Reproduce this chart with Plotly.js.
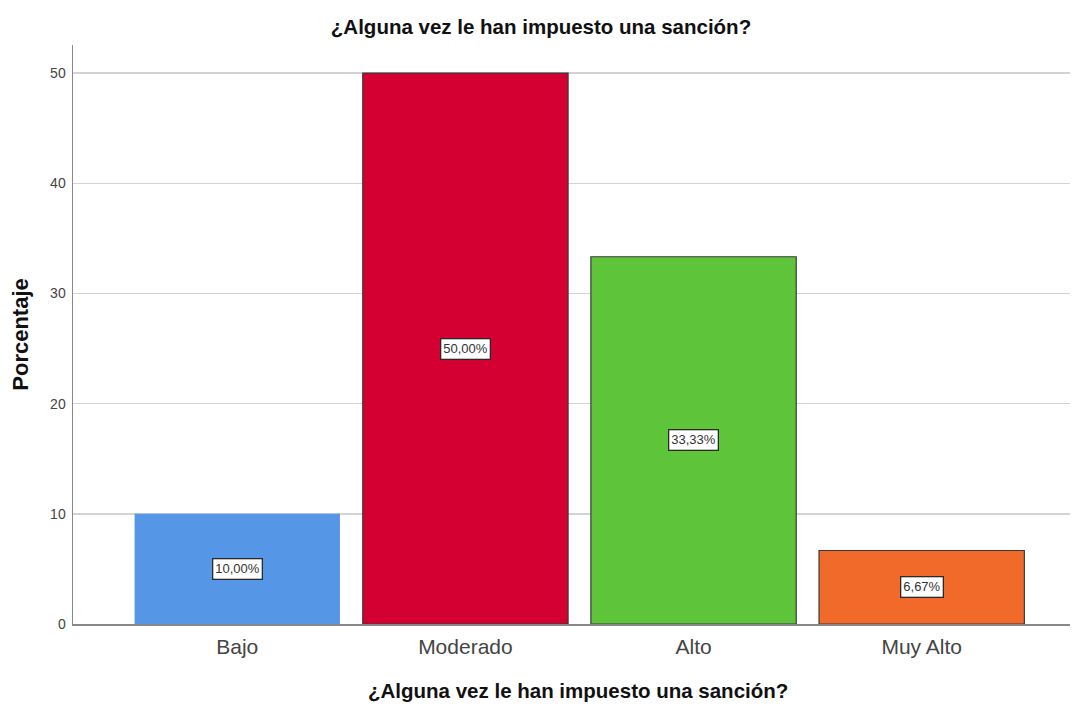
<!DOCTYPE html>
<html>
<head>
<meta charset="utf-8">
<script src="https://cdn.plot.ly/plotly-3.0.1.min.js"></script>
<style>html,body{margin:0;padding:0;background:#fff;}#chart{width:1079px;height:706px;}</style>
</head>
<body>
<div id="chart"></div>
<script>
const categories = ["Bajo", "Moderado", "Alto", "Muy Alto"];
const values = [10.00, 50.00, 33.33, 6.67];
const labels = ["10,00%", "50,00%", "33,33%", "6,67%"];
const colors = ["#5596E6", "#D50032", "#5EC43A", "#F26A2A"];
const titleText = "¿Alguna vez le han impuesto una sanción?";
const yTitle = "Porcentaje";

const FONT = "Liberation Sans, Arial, sans-serif";

const trace = {
  type: "bar",
  x: categories,
  y: values,
  marker: { color: colors, line: { color: ["rgba(0,0,0,0)", "#3a3a3a", "#3a3a3a", "#3a3a3a"], width: 1.2 } },
  hoverinfo: "skip",
  width: 0.9
};

const annotations = categories.map((c, i) => ({
  x: c, y: values[i] / 2, xref: "x", yref: "y",
  text: labels[i], showarrow: false,
  font: { family: FONT, size: 13, color: "#333" },
  bgcolor: "#ffffff", bordercolor: "#2a2a2a", borderwidth: 1.3, borderpad: 2
}));

annotations.push({
  xref: "paper", yref: "paper", x: (578 - 73) / (1070 - 73), xanchor: "center",
  y: -(690 - 624) / (624 - 45), yanchor: "middle",
  text: "<b>" + titleText + "</b>", showarrow: false,
  font: { family: FONT, size: 20.5, color: "#111" }
});

const layout = {
  width: 1079, height: 706,
  margin: { l: 73, r: 9, t: 45, b: 82 },
  paper_bgcolor: "#fff", plot_bgcolor: "#fff",
  font: { family: FONT },
  title: { text: "<b>" + titleText + "</b>", x: 541 / 1079, xref: "container", xanchor: "center",
           y: 1 - 27 / 706, yref: "container", yanchor: "middle",
           font: { size: 20.5, color: "#111" } },
  xaxis: {
    type: "category", range: [-0.72, 3.65],
    showline: true, linecolor: "#888", linewidth: 1.5,
    ticks: "outside", ticklen: 3, tickcolor: "rgba(0,0,0,0)", tickfont: { size: 21, color: "#444" },
    showgrid: false
  },
  yaxis: {
    range: [0, 52.55], tickvals: [0, 10, 20, 30, 40, 50],
    showline: true, linecolor: "#888", linewidth: 1.5,
    showgrid: true, gridcolor: "#d3d3d3", gridwidth: 1.5,
    ticks: "outside", ticklen: 3, tickcolor: "rgba(0,0,0,0)", tickfont: { size: 14, color: "#444" },
    zeroline: false,
    title: { text: "<b>" + yTitle + "</b>", font: { size: 22, color: "#111" }, standoff: 15 }
  },
  annotations: annotations,
  showlegend: false
};

Plotly.newPlot("chart", [trace], layout, { displayModeBar: false, staticPlot: true });
</script>
</body>
</html>
